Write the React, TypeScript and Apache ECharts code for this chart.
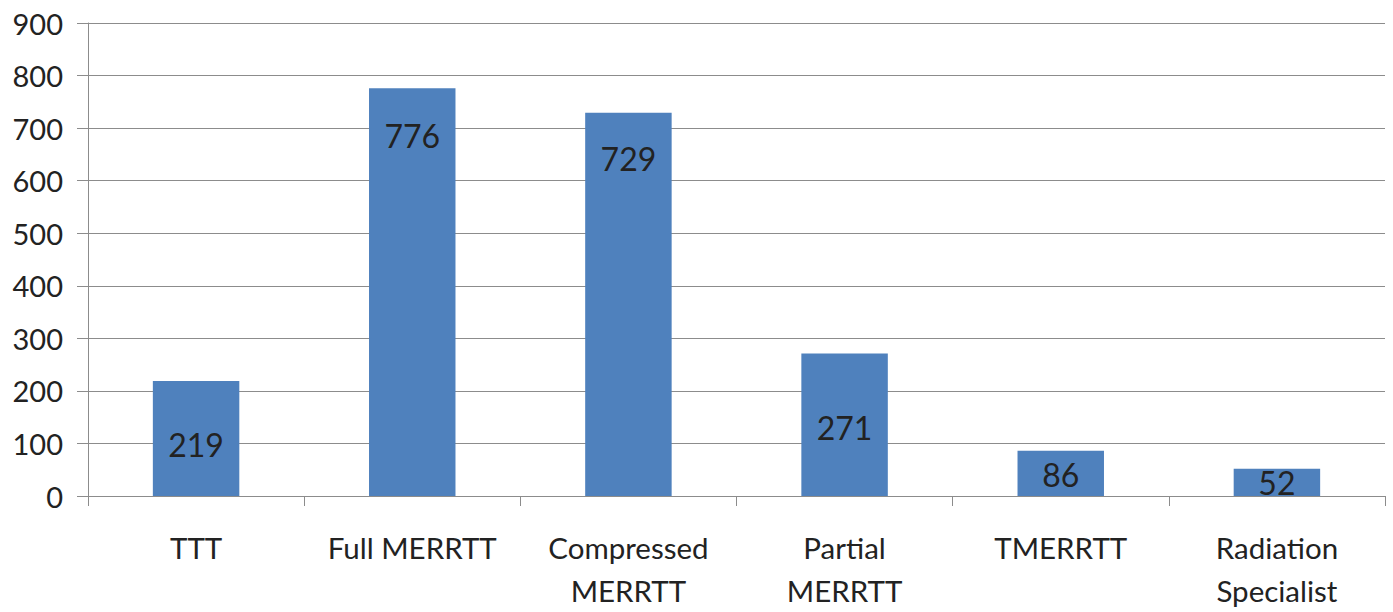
import React, { useEffect, useRef } from "react";
import * as echarts from "echarts";

const categories = ["TTT", "Full MERRTT", "Compressed\nMERRTT", "Partial\nMERRTT", "TMERRTT", "Radiation\nSpecialist"];
const values = [219, 776, 729, 271, 86, 52];
const yTicks = { min: 0, max: 900, interval: 100 };
// label vertical nudges (pixels)
const labelPlacement: { position: string; offset: [number, number] }[] = [
  { position: "inside", offset: [0, 6] },
  { position: "insideTop", offset: [0, 3] },
  { position: "insideTop", offset: [0, 2] },
  { position: "inside", offset: [0, 3] },
  { position: "inside", offset: [0, 1] },
  { position: "inside", offset: [0, 0] },
];

const FONT = "Lato, 'Open Sans', sans-serif";

export default function App() {
  const ref = useRef<HTMLDivElement>(null);
  useEffect(() => {
    if (!ref.current) return;
    const chart = echarts.init(ref.current, undefined, { renderer: "svg" });
    chart.setOption({
      animation: false,
      grid: { left: 88, right: 8, top: 23, bottom: 116, containLabel: false },
      xAxis: {
        type: "category",
        data: categories,
        axisLine: { show: true, lineStyle: { color: "#8c8c8c", width: 1 } },
        axisTick: { show: true, length: 10, alignWithLabel: false, lineStyle: { color: "#8c8c8c" } },
        axisLabel: {
          interval: 0,
          margin: 30,
          fontFamily: FONT,
          fontSize: 29.5,
          color: "#222",
          lineHeight: 43,
        },
      },
      yAxis: {
        type: "value",
        min: yTicks.min,
        max: yTicks.max,
        interval: yTicks.interval,
        axisLine: { show: true, lineStyle: { color: "#8c8c8c", width: 1 } },
        axisTick: { show: true, length: 11, lineStyle: { color: "#8c8c8c" } },
        splitLine: { show: true, lineStyle: { color: "#8c8c8c", width: 1 } },
        axisLabel: { margin: 25, fontFamily: FONT, fontSize: 29, color: "#222" },
      },
      series: [
        {
          type: "bar",
          barCategoryGap: "60%",
          itemStyle: { color: "#4F81BD" },
          data: values.map((v, i) => ({
            value: v,
            label: {
              show: true,
              position: labelPlacement[i].position,
              offset: labelPlacement[i].offset,
              distance: 28,
              fontFamily: FONT,
              fontSize: 32,
              color: "#222",
            },
          })),
        },
      ],
    });
    return () => chart.dispose();
  }, []);
  return <div ref={ref} style={{ width: 1393, height: 612, position: "absolute", left: 0, top: 0 }} />;
}
